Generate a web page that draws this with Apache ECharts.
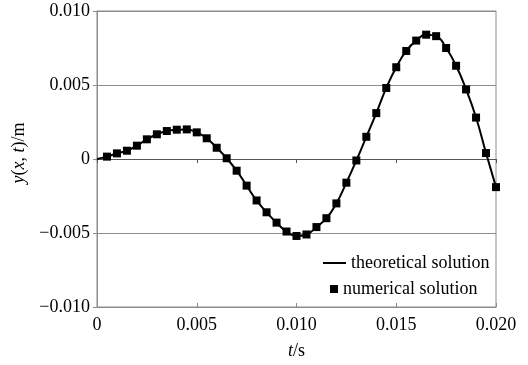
<!DOCTYPE html>
<html>
<head>
<meta charset="utf-8">
<script src="https://cdn.jsdelivr.net/npm/echarts@6/dist/echarts.min.js"></script>
<style>
  html, body { margin: 0; padding: 0; background: #fff; }
  #chart { width: 528px; height: 365px; }
</style>
</head>
<body>
<div id="chart"></div>
<script>
// time samples (s) and displacement (m)
var tNum = [0.0005, 0.001, 0.0015, 0.002, 0.0025, 0.003, 0.0035, 0.004, 0.0045, 0.005,
            0.0055, 0.006, 0.0065, 0.007, 0.0075, 0.008, 0.0085, 0.009, 0.0095, 0.010,
            0.0105, 0.011, 0.0115, 0.012, 0.0125, 0.013, 0.0135, 0.014, 0.0145, 0.015,
            0.0155, 0.016, 0.0165, 0.017, 0.0175, 0.018, 0.0185, 0.019, 0.0195, 0.020];
var yNum = [0.00016, 0.00038, 0.00056, 0.0009, 0.00133, 0.00167, 0.00189, 0.00198, 0.0020, 0.0018,
            0.0014, 0.00076, 0.00005, -0.00079, -0.0018, -0.0028, -0.0036, -0.0043, -0.0049, -0.0052,
            -0.0051, -0.0046, -0.0040, -0.0030, -0.0016, -0.0001, 0.0015, 0.0031, 0.0048, 0.0062,
            0.0073, 0.0080, 0.0084, 0.0083, 0.0075, 0.0063, 0.0047, 0.0028, 0.0004, -0.0019];
// theoretical curve: starts at origin, follows the same shape
var tTheory = [0].concat(tNum);
var yTheory = [0].concat(yNum);

var xTicks = ['0', '0.005', '0.010', '0.015', '0.020'];
var yTicks = ['\u22120.010', '\u22120.005', '0', '0.005', '0.010'];

var serif = '"Liberation Serif", "DejaVu Serif", serif';
var fs = 18;

function pairs(a, b) {
    return a.map(function(v, i) { return [v, b[i]]; });
}

var myChart = echarts.init(document.getElementById('chart'));

var option = {
    animation: false,
    backgroundColor: '#fff',
    textStyle: { fontFamily: serif },
    grid: {
        left: 97, right: 32, top: 11, bottom: 58,
        show: true, borderColor: '#8c8c8c', borderWidth: 1
    },
    legend: [{
        data: [{ name: 'theoretical solution', icon: 'rect', itemStyle: { color: '#000' } }],
        left: 318, top: 249,
        itemWidth: 23, itemHeight: 2, itemGap: 9,
        textStyle: { fontFamily: serif, fontSize: fs, color: '#000' }
    }, {
        data: ['numerical solution'],
        left: 325, top: 275,
        itemWidth: 8, itemHeight: 8, itemGap: 17,
        textStyle: { fontFamily: serif, fontSize: fs, color: '#000' }
    }],
    xAxis: [{
        type: 'value', min: 0, max: 0.020, interval: 0.005,
        position: 'bottom',
        name: '{i|t}/s', nameLocation: 'middle', nameGap: 35,
        nameTextStyle: { fontFamily: serif, fontSize: fs, color: '#000',
            rich: { i: { fontFamily: serif, fontSize: fs, fontStyle: 'italic', color: '#000' } } },
        axisLine: { onZero: false, lineStyle: { color: '#8c8c8c' } },
        axisTick: { inside: true, length: 4, lineStyle: { color: '#8c8c8c' } },
        axisLabel: {
            margin: 9, fontSize: fs, color: '#000', fontFamily: serif,
            formatter: function(v) { return xTicks[Math.round(v / 0.005)]; }
        },
        splitLine: { show: false }
    }, {
        type: 'value', min: 0, max: 0.020, interval: 0.005,
        position: 'top',
        axisLine: { show: true, onZero: true, onZeroAxisIndex: 0, lineStyle: { color: '#555' } },
        axisTick: { show: true, inside: true, length: 4, lineStyle: { color: '#555' } },
        axisLabel: { show: false },
        splitLine: { show: false }
    }],
    yAxis: [{
        type: 'value', min: -0.010, max: 0.010, interval: 0.005,
        name: '{i|y}({i|x}, {i|t})/m', nameLocation: 'middle', nameGap: 68,
        nameTextStyle: {
            fontFamily: serif, fontSize: fs, color: '#000', padding: [0, 0, 0, 12],
            rich: { i: { fontFamily: serif, fontSize: fs, fontStyle: 'italic', color: '#000' } }
        },
        axisLine: { show: true, lineStyle: { color: '#8c8c8c' } },
        axisTick: { show: true, length: 4, lineStyle: { color: '#8c8c8c' } },
        axisLabel: {
            margin: 7, fontSize: fs, color: '#000', fontFamily: serif,
            formatter: function(v) { return yTicks[Math.round(v / 0.005) + 2]; }
        },
        splitLine: { show: true, lineStyle: { color: '#8c8c8c', width: 1 } }
    }],
    series: [{
        name: 'theoretical solution',
        type: 'line',
        xAxisIndex: 0,
        data: pairs(tTheory, yTheory),
        smooth: true,
        symbol: 'none',
        lineStyle: { color: '#000', width: 2 },
        itemStyle: { color: '#000' },
        z: 3
    }, {
        name: 'numerical solution',
        type: 'scatter',
        xAxisIndex: 0,
        data: pairs(tNum, yNum),
        symbol: 'rect',
        symbolSize: 8,
        itemStyle: { color: '#000', opacity: 1 },
        z: 4
    }]
};

myChart.setOption(option);
</script>
</body>
</html>
